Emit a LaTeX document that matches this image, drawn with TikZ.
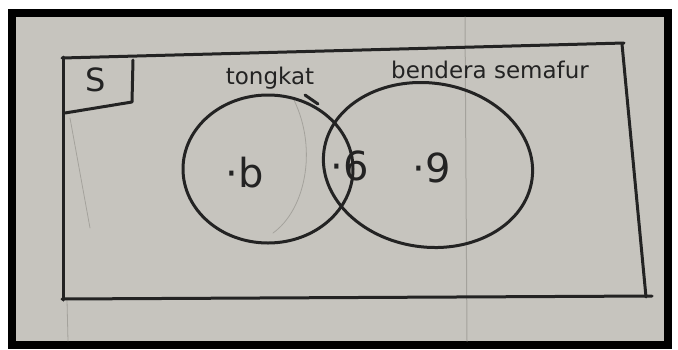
\documentclass[tikz,border=0pt]{standalone}
\usepackage{fontspec}
\setmainfont{DejaVu Sans}
\definecolor{ink}{HTML}{232323}
\definecolor{paper}{HTML}{C6C4BE}
\definecolor{faint}{HTML}{A4A29C}
\begin{document}
\begin{tikzpicture}[x=1pt,y=-1pt,
  pen/.style={line width=3pt,draw=ink,line cap=round,line join=round},
  pencil/.style={line width=0.8pt,draw=faint,line cap=round},
  lab/.style={text=ink,font=\fontsize{23}{26}\selectfont,inner sep=0pt},
  num/.style={text=ink,font=\fontsize{40}{44}\selectfont,inner sep=0pt}]
\useasboundingbox (0,0) rectangle (678,349);
\fill[white] (0,0) rectangle (678,349);
\fill[black] (8,9) rectangle (672,349);
\fill[paper] (16,17) rectangle (664,341);
% paper ruled lines
\draw[pencil,line width=1pt] (465,17) -- (467,341);
\draw[pencil] (67,300) -- (68,341);
% faint pencil marks
\draw[pencil] (70,118) -- (90,228);
\draw[pencil] (294,100) .. controls (318,150) and (305,210) .. (273,233);
% universal set rectangle
\draw[pen] (62,58) -- (624,43);
\draw[pen] (622,44) -- (646,297);
\draw[pen] (62,299) -- (652,296);
\draw[pen] (63,57) -- (63,300);
% S box
\draw[pen] (133,60) -- (132,102) -- (65,113);
\node[lab,font=\fontsize{32}{36}\selectfont] (s) at (96,80) {S};
% sets
\draw[pen] (268,169) ellipse [x radius=85pt, y radius=74pt];
\draw[pen,rotate around={-8:(428,165)}] (428,165) ellipse [x radius=105pt, y radius=82pt];
\draw[pen] (305,95) -- (318,104);
\node[lab] (t) at (270,78) {tongkat};
\node[lab] (bs) at (490,70) {bendera semafur};
\node[num] (a) at (245,173) {·b};
\node[num] (c) at (350,166) {·6};
\node[num] (d) at (432,168) {·9};
\end{tikzpicture}
\end{document}
